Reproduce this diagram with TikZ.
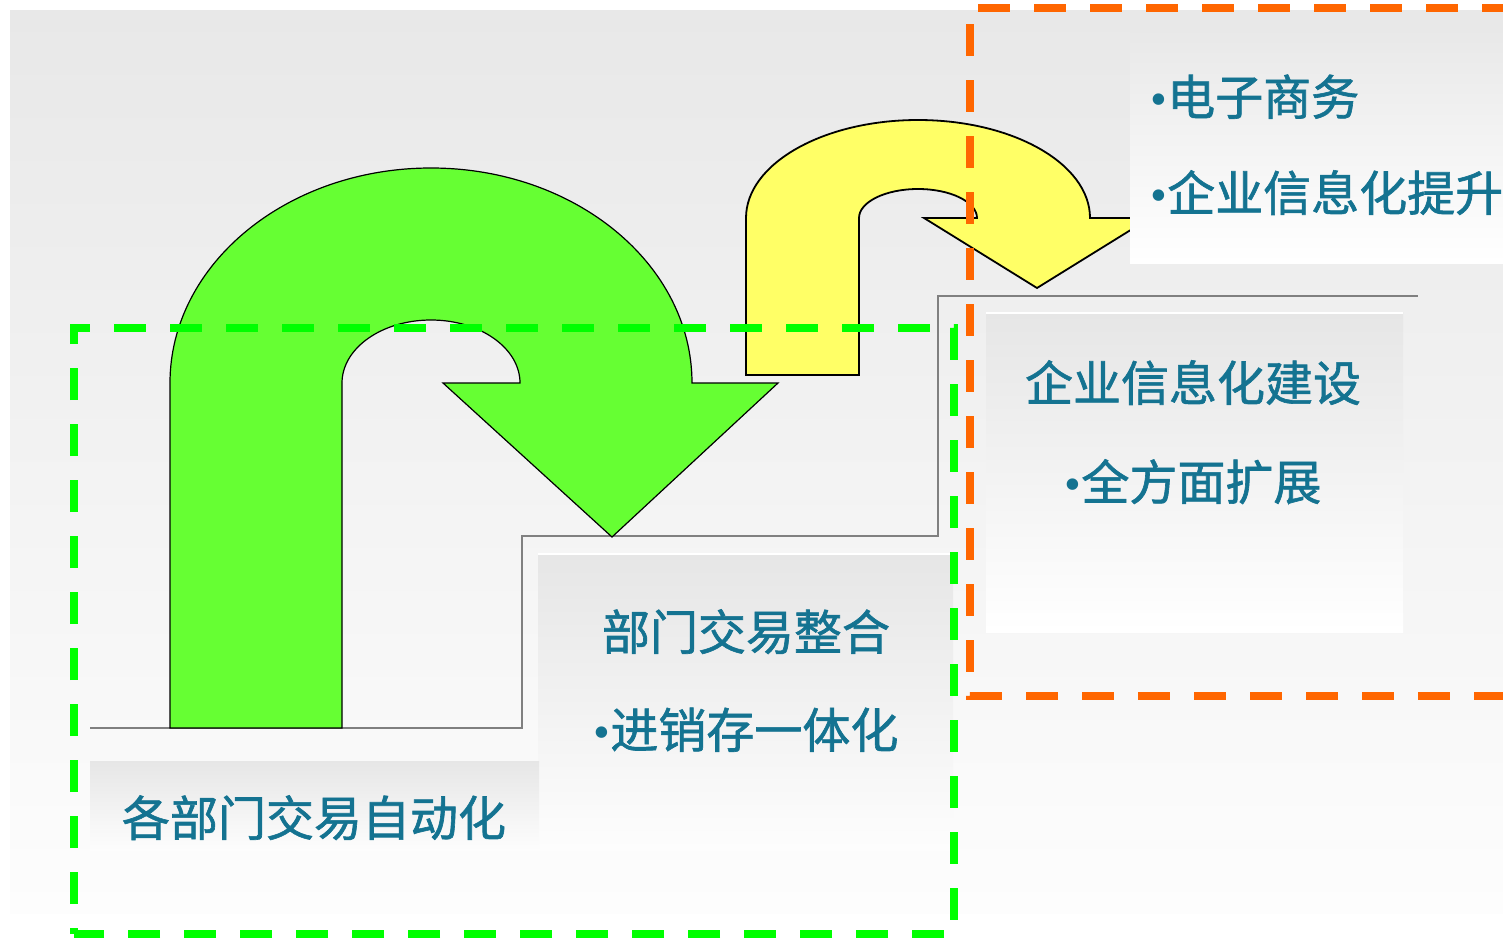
\documentclass[tikz,border=0pt]{standalone}
\usepackage{fontspec}
\newfontfamily\cjk{Noto Sans CJK SC}[FakeBold=1.3]
\newfontfamily\bul{Liberation Serif}
\definecolor{bgtop}{HTML}{E8E8E8}
\definecolor{bgbot}{HTML}{FDFDFD}
\definecolor{boxtop}{HTML}{E6E6E6}
\definecolor{tcol}{RGB}{20,115,145}
\definecolor{stepgray}{HTML}{808080}
\definecolor{agreen}{HTML}{66FF33}
\definecolor{ayellow}{HTML}{FFFF66}
\definecolor{dgreen}{HTML}{00FF00}
\definecolor{dorange}{HTML}{FF6600}
\tikzset{
  txt/.style={font=\cjk\fontsize{24pt}{28pt}\selectfont, text=tcol, inner sep=0pt},
  arrowshape/.style={draw=black, line width=0.6pt, line join=miter},
  stepline/.style={draw=stepgray, line width=1pt},
  gdash/.style={draw=dgreen, line width=4pt, dash pattern=on 16pt off 12pt, dash phase=13pt},
  odashA/.style={draw=dorange, line width=4pt, dash pattern=on 16pt off 12pt, dash phase=20pt},
  odashB/.style={draw=dorange, line width=4pt, dash pattern=on 16pt off 12pt, dash phase=24pt},
  gbox/.style={top color=boxtop, bottom color=white, draw=none},
}
\begin{document}
\begin{tikzpicture}[x=0.5pt,y=-0.5pt]
\useasboundingbox (0,0) rectangle (1503,937);
\fill[white] (0,0) rectangle (1503,937);
% background
\shade[top color=bgtop, bottom color=bgbot] (10,10) rectangle (1503,913);
% steps
\draw[stepline] (90,728) -- (522,728) -- (522,536) -- (938,536) -- (938,296) -- (1418,296);
% text boxes
\shade[gbox] (986,312) rectangle (1403,632);
\draw[white, line width=1pt] (986,313) -- (1403,313);
\shade[top color=boxtop, bottom color=bgbot, draw=none] (538,553) rectangle (953,850);
\draw[white, line width=1pt] (538,554) -- (953,554);
\shade[top color=boxtop, bottom color=bgbot, draw=none] (90,761) rectangle (539,850);
% green arrow
\draw[arrowshape, fill=agreen] (170,728) -- (170,383)
  arc[start angle=180, end angle=360, x radius=261, y radius=215]
  -- (778,383) -- (612,537) -- (443,383) -- (520,383)
  arc[start angle=0, end angle=-180, x radius=89, y radius=63]
  -- (342,728) -- cycle;
% yellow arrow
\draw[arrowshape, line width=0.9pt, fill=ayellow] (746,375) -- (746,218)
  arc[start angle=180, end angle=360, x radius=172, y radius=98]
  -- (1150,218) -- (1037,288) -- (924,218) -- (977,218)
  arc[start angle=0, end angle=-180, x radius=59, y radius=29]
  -- (859,375) -- cycle;
% top-right box
\shade[top color=bgtop, bottom color=white, draw=none] (1130,27) rectangle (1503,263);
% texts
\node[txt, anchor=base west] (a1) at (1150,115) {{\bul •}电子商务};
\node[txt, anchor=base west] (a2) at (1150,211) {{\bul •}企业信息化提升};
\node[txt, anchor=base] (b1) at (1193,401) {企业信息化建设};
\node[txt, anchor=base] (b2) at (1193,500) {{\bul •}全方面扩展};
\node[txt, anchor=base] (c1) at (746,650) {部门交易整合};
\node[txt, anchor=base] (c2) at (746,748) {{\bul •}进销存一体化};
\node[txt, anchor=base] (d1) at (314,836) {各部门交易自动化};
% dashed frames
\draw[gdash] (74,934) -- (74,328) -- (954,328) -- (954,934) -- cycle;
\draw[odashA] (970,8) -- (970,696) -- (1515,696);
\draw[odashB] (970,8) -- (1515,8);
\end{tikzpicture}
\end{document}
